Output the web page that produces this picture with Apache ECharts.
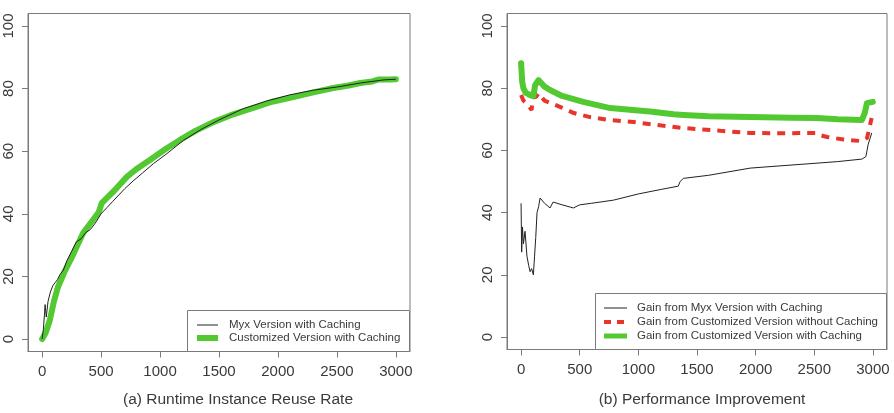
<!DOCTYPE html>
<html>
<head>
<meta charset="utf-8">
<script src="https://cdn.jsdelivr.net/npm/echarts@6/dist/echarts.min.js"></script>
<style>
html, body { margin: 0; padding: 0; background: #fff; }
#main { width: 894px; height: 413px; }
</style>
</head>
<body>
<div id="main"></div>
<script>
// tick labels (both panels share them)
var xTicks = [0, 500, 1000, 1500, 2000, 2500, 3000];
var yTicks = [0, 20, 40, 60, 80, 100];

// (a) Runtime Instance Reuse Rate
var myxReuseX = [0, 10, 20, 25, 35, 50, 70, 90, 110, 130, 150, 180, 210, 250, 290, 330, 370, 410, 450, 500, 550, 600, 650, 700, 772, 850, 943, 1050, 1200, 1350, 1500, 1700, 1900, 2100, 2300, 2500, 2700, 2900, 3000];
var myxReuseY = [0, 3, 8, 11, 7, 12, 15, 17, 18, 19, 20.5, 22, 25, 28, 31, 32, 34, 35, 37, 40, 42, 44, 46, 48, 50.5, 53, 56, 59, 63.5, 67, 70, 73.5, 76, 78, 79.5, 80.5, 81.8, 82.8, 83];
var custReuseX = [0, 30, 65, 100, 134, 190, 250, 300, 350, 400, 462, 480, 505, 560, 617, 718, 800, 914, 1050, 1169, 1300, 1452, 1600, 1790, 1950, 2129, 2300, 2469, 2600, 2698, 2800, 2851, 2950, 3000];
var custReuseY = [0, 2, 6, 12, 16.6, 21.5, 26, 30, 34, 36.5, 39.6, 40.5, 43.4, 45.5, 47.6, 51.8, 54.3, 57.2, 60.8, 63.6, 66.5, 69.3, 71.5, 73.8, 75.8, 77.3, 78.8, 80.2, 81, 81.8, 82.3, 82.9, 82.9, 83];

// (b) Performance Improvement
var myxGainX = [0, 5, 12, 20, 34, 50, 65, 77, 90, 105, 115, 125, 136, 150, 162, 200, 247, 273, 350, 446, 500, 600, 787, 1000, 1200, 1340, 1356, 1384, 1600, 1953, 2200, 2524, 2700, 2906, 2940, 2960, 2990];
var myxGainY = [43, 27.3, 35.4, 30, 34, 26, 23, 21, 22, 20, 26, 32, 40, 42, 44.7, 43, 41.5, 43.4, 42.5, 41.5, 42.5, 43, 44, 46, 47.5, 48.5, 50, 51, 52, 54.3, 55, 55.9, 56.4, 57.2, 58, 62, 65.6];
var noCacheGainX = [0, 20, 50, 90, 100, 128, 148, 200, 332, 450, 588, 750, 958, 1200, 1384, 1700, 1953, 2200, 2524, 2560, 2609, 2750, 2899, 2950, 2989];
var noCacheGainY = [77.8, 76, 75, 73, 77, 77.2, 78.4, 76, 74, 72, 70.7, 69.8, 69.1, 68, 67.2, 66.3, 65.6, 65.5, 65.6, 64.8, 64.3, 63.5, 63, 64, 70.4];
var cacheGainX = [0, 10, 20, 40, 77, 90, 105, 120, 148, 200, 247, 350, 530, 760, 1000, 1100, 1300, 1384, 1600, 1953, 2300, 2524, 2700, 2906, 2930, 2949, 2999];
var cacheGainY = [88, 82, 80, 78.5, 77.8, 77.2, 77.5, 81, 82.6, 80.5, 79.4, 77.5, 75.6, 73.6, 72.8, 72.5, 71.6, 71.4, 71, 70.7, 70.5, 70.4, 70, 69.8, 72, 75.2, 75.6];

var namesA = ['Myx Version with Caching', 'Customized Version with Caching'];
var namesB = ['Gain from Myx Version with Caching', 'Gain from Customized Version without Caching', 'Gain from Customized Version with Caching'];

var FONT = 'Liberation Sans';
var BOX = '#7a7a7a';
var TXT = '#3a3a3a';
var GREEN = '#52c831';
var RED = '#e8352c';
var DARK = '#222';

function pairs(xs, ys) {      // zip x/y arrays into [x, y] points
    var out = [];
    for (var i = 0; i < xs.length; i++) {
        out.push([xs[i], ys[i]]);
    }
    return out;
}

function makeX(idx) {
    return {
        type: 'value', gridIndex: idx, min: -120, max: 3120,
        axisLine: { show: true, onZero: false, lineStyle: { color: BOX } },
        axisTick: { show: true, inside: false, length: 6, customValues: xTicks, lineStyle: { color: BOX } },
        axisLabel: { customValues: xTicks, fontSize: 15, color: TXT, fontFamily: FONT, margin: 13,
            formatter: function (v) { return String(v); } },
        splitLine: { show: false }
    };
}

function makeY(idx) {
    return {
        type: 'value', gridIndex: idx, min: -4, max: 104,
        axisLine: { show: true, onZero: false, lineStyle: { color: BOX } },
        axisTick: { show: true, inside: false, length: 6, customValues: yTicks, lineStyle: { color: BOX } },
        axisLabel: { customValues: yTicks, rotate: 90, fontSize: 15, color: TXT, fontFamily: FONT, margin: 12,
            formatter: function (v) { return String(v); } },
        splitLine: { show: false }
    };
}

// legend drawn by hand: box + line samples + text (R style)
function legendBox(x, y, w, h, lineX0, lineX1, textX, rows, names, styles) {
    var els = [{
        type: 'rect', shape: { x: x, y: y, width: w, height: h }, z: 50,
        style: { fill: '#fff', stroke: BOX, lineWidth: 1 }
    }];
    for (var i = 0; i < names.length; i++) {
        els.push({
            type: 'line', z: 51,
            shape: { x1: lineX0, y1: rows[i], x2: lineX1, y2: rows[i] },
            style: styles[i]
        });
        els.push({
            type: 'text', x: textX, y: rows[i], z: 51,
            style: { text: names[i], font: '11.5px "Liberation Sans"', fill: TXT, textVerticalAlign: 'middle' }
        });
    }
    return els;
}

var blackStyle = { stroke: DARK, lineWidth: 1 };
var greenStyle = { stroke: GREEN, lineWidth: 6 };
var redStyle = { stroke: RED, lineWidth: 4, lineDash: [7, 6] };

var graphics = [
    { type: 'text', x: 238, y: 400, style: { text: '(a) Runtime Instance Reuse Rate', font: '15.5px "Liberation Sans"', fill: TXT, textAlign: 'center', textVerticalAlign: 'middle' } },
    { type: 'text', x: 702, y: 400, style: { text: '(b) Performance Improvement', font: '15.5px "Liberation Sans"', fill: TXT, textAlign: 'center', textVerticalAlign: 'middle' } }
];
graphics = graphics.concat(legendBox(187.5, 310.5, 222, 41, 197, 218, 229, [325, 338], namesA, [blackStyle, greenStyle]));
graphics = graphics.concat(legendBox(595.5, 293.5, 291, 56, 604, 627, 637, [308, 322, 336], namesB, [blackStyle, redStyle, { stroke: GREEN, lineWidth: 5 }]));

var chart = echarts.init(document.getElementById('main'), null, { renderer: 'canvas' });

var option = {
    animation: false,
    backgroundColor: '#fff',
    grid: [
        { left: 28, top: 13.5, width: 382, height: 338, show: true, borderColor: BOX, borderWidth: 1, backgroundColor: 'transparent' },
        { left: 507, top: 13.5, width: 380, height: 336, show: true, borderColor: BOX, borderWidth: 1, backgroundColor: 'transparent' }
    ],
    xAxis: [makeX(0), makeX(1)],
    yAxis: [makeY(0), makeY(1)],
    graphic: graphics,
    series: [
        {
            name: namesA[0], type: 'line', xAxisIndex: 0, yAxisIndex: 0,
            symbol: 'none', z: 3, color: DARK,
            lineStyle: { color: DARK, width: 1 },
            data: pairs(myxReuseX, myxReuseY)
        },
        {
            name: namesA[1], type: 'line', xAxisIndex: 0, yAxisIndex: 0,
            symbol: 'none', z: 2, color: GREEN,
            lineStyle: { color: GREEN, width: 6, cap: 'round', join: 'round' },
            data: pairs(custReuseX, custReuseY)
        },
        {
            name: namesB[0], type: 'line', xAxisIndex: 1, yAxisIndex: 1,
            symbol: 'none', z: 3, color: DARK,
            lineStyle: { color: DARK, width: 1 },
            data: pairs(myxGainX, myxGainY)
        },
        {
            name: namesB[1], type: 'line', xAxisIndex: 1, yAxisIndex: 1,
            symbol: 'none', z: 2, color: RED,
            lineStyle: { color: RED, width: 4, type: [8, 7] },
            data: pairs(noCacheGainX, noCacheGainY)
        },
        {
            name: namesB[2], type: 'line', xAxisIndex: 1, yAxisIndex: 1,
            symbol: 'none', z: 2, color: GREEN,
            lineStyle: { color: GREEN, width: 6, cap: 'round', join: 'round' },
            data: pairs(cacheGainX, cacheGainY)
        }
    ]
};
chart.setOption(option);
</script>
</body>
</html>
